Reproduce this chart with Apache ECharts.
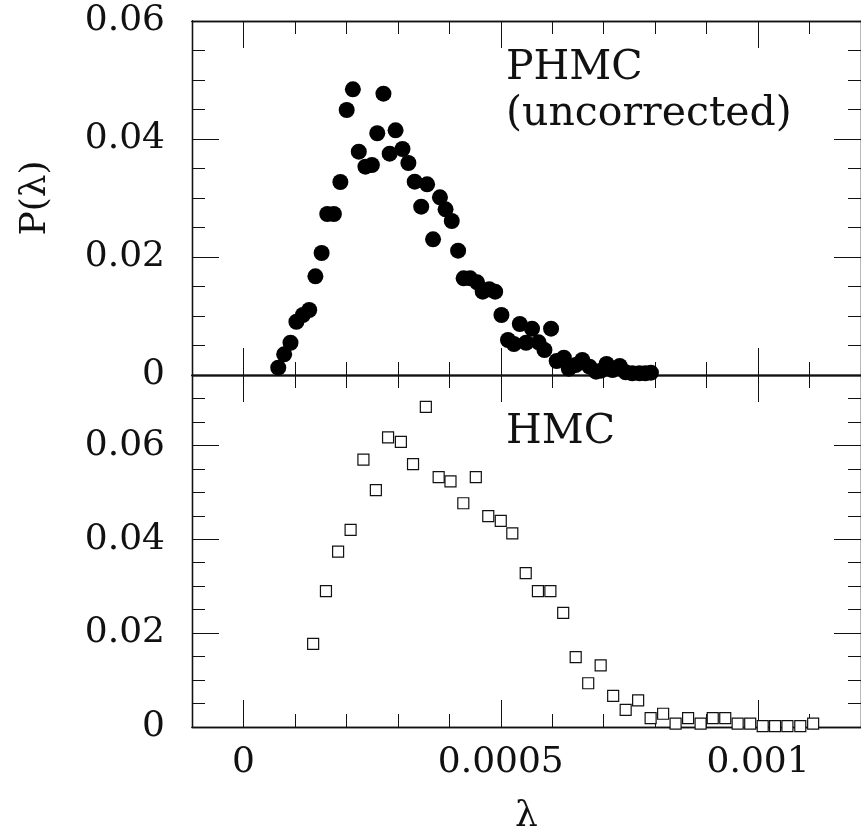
<!DOCTYPE html>
<html>
<head>
<meta charset="utf-8">
<script src="https://cdn.jsdelivr.net/npm/echarts@6/dist/echarts.min.js"></script>
<style>
html,body{margin:0;padding:0;background:#fff;}
#chart{width:861px;height:836px;}
</style>
</head>
<body>
<div id="chart"></div>
<script>
// ---------- data ----------
// PHMC (uncorrected): lambda values and P(lambda)
const phmcLambda = [0.0000676,0.0000791,0.0000914,0.0001029,0.0001155,0.0001278,0.0001398,0.0001519,0.0001628,0.0001757,
  0.0001883,0.0002006,0.0002126,0.0002241,0.0002370,0.0002496,0.0002600,0.0002720,0.0002841,0.0002956,
  0.0003090,0.0003205,0.0003328,0.0003454,0.0003569,0.0003684,0.0003818,0.0003927,0.0004048,0.0004171,
  0.0004278,0.0004406,0.0004540,0.0004649,0.0004776,0.0004891,0.0005013,0.0005140,0.0005255,0.0005370,
  0.0005492,0.0005607,0.0005734,0.0005849,0.0005977,0.0006086,0.0006226,0.0006322,0.0006456,0.0006584,
  0.0006724,0.0006852,0.0006948,0.0007056,0.0007170,0.0007312,0.0007427,0.0007554,0.0007695,0.0007810,0.0007918];
const phmcP = [0.00124,0.00351,0.00547,0.00903,0.01017,0.01102,0.01673,0.02068,0.02729,0.02729,
  0.03271,0.04492,0.04842,0.03785,0.03531,0.03559,0.04097,0.04768,0.03751,0.04147,
  0.03831,0.03593,0.03276,0.02853,0.03232,0.02300,0.03012,0.02808,0.02610,0.02107,
  0.01639,0.01639,0.01571,0.01412,0.01453,0.01412,0.01017,0.00593,0.00525,0.00864,
  0.00547,0.00785,0.00554,0.00424,0.00785,0.00237,0.00293,0.00107,0.00169,0.00254,
  0.00141,0.00056,0.00073,0.00186,0.00085,0.00153,0.00046,0.00029,0.00029,0.00029,0.00039];

// HMC: lambda values and P(lambda)
const hmcLambda = [0.0001354,0.0001603,0.0001839,0.0002082,0.0002331,0.0002573,0.0002810,0.0003059,0.0003295,0.0003544,
  0.0003793,0.0004023,0.0004272,0.0004515,0.0004757,0.0005000,0.0005224,0.0005485,0.0005722,0.0005964,
  0.0006213,0.0006456,0.0006699,0.0006941,0.0007184,0.0007427,0.0007669,0.0007912,0.0008155,0.0008397,
  0.0008640,0.0008883,0.0009119,0.0009362,0.0009603,0.0009847,0.0010090,0.0010330,0.0010570,0.0010820,0.0011070];
const hmcP = [0.01773,0.02896,0.03735,0.04201,0.05699,0.05049,0.06172,0.06074,0.05600,0.06822,
  0.05324,0.05233,0.04767,0.05324,0.04491,0.04392,0.04125,0.03277,0.02896,0.02896,
  0.02430,0.01489,0.00932,0.01314,0.00663,0.00367,0.00566,0.00191,0.00282,0.00074,
  0.00191,0.00074,0.00191,0.00191,0.00074,0.00074,0.00020,0.00020,0.00020,0.00020,0.00074];

// axis ticks / labels
const xMin = -0.0001, xMax = 0.0012, xMinorStep = 0.0001;
const xMajorTicks = [0, 0.0005, 0.001];
const xTickLabels = ['0', '0.0005', '0.001'];
const yTopMax = 0.06, yBotMax = 0.075, yMinorStep = 0.005, yMajorStep = 0.02;
const yTickLabels = {0: '0', 0.02: '0.02', 0.04: '0.04', 0.06: '0.06'};
const annTop = ['PHMC', '(uncorrected)'];
const annBot = 'HMC';
const xName = 'λ', yName = 'P(λ)';

// ---------- chart ----------
const FONT = 'DejaVu Serif';
const INK = '#111';
const chart = echarts.init(document.getElementById('chart'), null, {renderer: 'canvas'});

const grids = [
  {left: 192, top: 21, width: 678, height: 354},
  {left: 192, top: 375, width: 678, height: 354}
];

function xAx(grid, pos, major, labels) {
  const a = {
    type: 'value', gridIndex: grid, position: pos, min: xMin, max: xMax,
    axisLine: {show: true, onZero: false, lineStyle: {color: INK, width: 1.3}},
    splitLine: {show: false},
    axisTick: {show: true, inside: true, length: major ? 27 : 13, lineStyle: {color: INK, width: 1}},
    axisLabel: {show: false}
  };
  if (major) {
    a.axisTick.customValues = xMajorTicks;
    a.axisLabel = labels ? {
      show: true, customValues: xMajorTicks, margin: 18,
      fontFamily: FONT, fontSize: 36, color: INK,
      formatter: v => xTickLabels[xMajorTicks.findIndex(t => Math.abs(t - v) < 1e-9)]
    } : {show: false};
  } else {
    a.interval = xMinorStep;
  }
  return a;
}
function yAx(grid, pos, max, major, labels) {
  const a = {
    type: 'value', gridIndex: grid, position: pos, min: 0, max: max,
    interval: major ? yMajorStep : yMinorStep,
    axisLine: {show: true, onZero: false, lineStyle: {color: INK, width: 1.3}},
    splitLine: {show: false},
    axisTick: {show: true, inside: true, length: major ? 27 : 13, lineStyle: {color: INK, width: 1}},
    axisLabel: {show: false}
  };
  if (labels) {
    a.axisLabel = {
      show: true, margin: 27, fontFamily: FONT, fontSize: 36, color: INK,
      showMaxLabel: max === yTopMax,
      formatter: v => { const k = Object.keys(yTickLabels).find(t => Math.abs(+t - v) < 1e-9); return k === undefined ? '' : yTickLabels[k]; }
    };
  }
  return a;
}

const xAxes = [
  xAx(0, 'bottom', false), xAx(0, 'bottom', true, false),
  xAx(0, 'top', false), xAx(0, 'top', true, false),
  xAx(1, 'bottom', false), xAx(1, 'bottom', true, true),
  xAx(1, 'top', false), xAx(1, 'top', true, false)
];
xAxes[5].name = xName;
xAxes[5].nameLocation = 'middle';
xAxes[5].nameGap = 72;
xAxes[5].nameTextStyle = {fontFamily: FONT, fontSize: 36, color: INK};

const yAxes = [
  yAx(0, 'left', yTopMax, false), yAx(0, 'left', yTopMax, true, true),
  yAx(0, 'right', yTopMax, false), yAx(0, 'right', yTopMax, true, false),
  yAx(1, 'left', yBotMax, false), yAx(1, 'left', yBotMax, true, true),
  yAx(1, 'right', yBotMax, false), yAx(1, 'right', yBotMax, true, false)
];
yAxes[1].name = yName;
yAxes[1].nameLocation = 'middle';
yAxes[1].nameGap = 138;
yAxes[1].nameRotate = 90;
yAxes[1].nameTextStyle = {fontFamily: FONT, fontSize: 36, color: INK};

chart.setOption({
  animation: false,
  backgroundColor: '#fff',
  grid: grids,
  xAxis: xAxes,
  yAxis: yAxes,
  series: [
    {
      type: 'scatter', xAxisIndex: 0, yAxisIndex: 0, clip: false,
      symbol: 'circle', symbolSize: 16,
      itemStyle: {color: '#000', opacity: 1},
      data: phmcLambda.map((x, i) => [x, phmcP[i]])
    },
    {
      type: 'scatter', xAxisIndex: 4, yAxisIndex: 4, clip: true,
      symbol: 'rect', symbolSize: 11,
      itemStyle: {color: '#fff', borderColor: '#111', borderWidth: 1.2, opacity: 1},
      data: hmcLambda.map((x, i) => [x, hmcP[i]])
    }
  ],
  graphic: [
    {type: 'text', left: 506, top: 48, style: {text: annTop[0], font: '41px "DejaVu Serif"', fill: INK}},
    {type: 'text', left: 506, top: 94, style: {text: annTop[1], font: '41px "DejaVu Serif"', fill: INK}},
    {type: 'text', left: 506, top: 412, style: {text: annBot, font: '41px "DejaVu Serif"', fill: INK}}
  ]
});
</script>
</body>
</html>
